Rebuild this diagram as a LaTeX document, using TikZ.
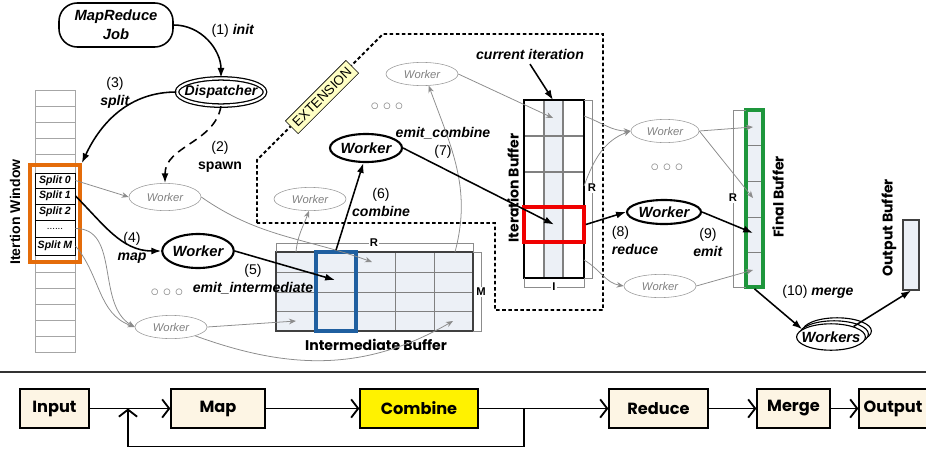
\documentclass[tikz,border=0pt]{standalone}
\usepackage{fontspec}
\setmainfont{Liberation Sans}
\newfontfamily\comic{Poppins}
\usetikzlibrary{
  positioning,
  shapes.geometric,
  arrows.meta,
}
\definecolor{winorange}{RGB}{228,108,10}
\definecolor{colblue}{RGB}{31,95,160}
\definecolor{curred}{RGB}{240,0,0}
\definecolor{fingreen}{RGB}{30,150,60}
\definecolor{buffill}{RGB}{236,240,246}
\definecolor{cream}{RGB}{253,245,228}
\definecolor{extyellow}{RGB}{255,255,196}
\newcommand{\bfit}[1]{\textbf{\textit{#1}}}

\tikzset{
  gworker/.style={ellipse, draw=gray!80, text=gray, inner sep=0pt,
    minimum width=1.8cm, minimum height=0.58cm,
    font=\itshape\fontsize{8}{9}\selectfont},
  bworker/.style={ellipse, draw, line width=1.5pt, inner sep=0pt,
    minimum width=1.8cm, minimum height=0.7cm,
    font=\bfseries\itshape\fontsize{10.5}{12}\selectfont},
  wstack/.style={ellipse, draw, fill=white, line width=0.8pt, inner ysep=0pt,
    inner xsep=-4pt, minimum width=1.72cm, minimum height=0.66cm,
    font=\bfseries\itshape\fontsize{10.5}{12}\selectfont},
  lbl/.style={align=center, font=\fontsize{10}{12.8}\selectfont},
  garrow/.style={draw=gray!90, line width=0.55pt, -{Stealth[length=5pt,width=4pt]}},
  barrow/.style={line width=1.1pt, -{Latex[length=7pt,width=5pt]}},
  stage/.style={draw, line width=0.9pt, fill=cream, minimum height=0.98cm,
    font=\comic\bfseries\fontsize{11.5}{13}\selectfont},
  flow/.style={line width=1.3pt, -{Straight Barb[length=5pt,width=13pt]}},
  dimline/.style={draw=gray!90, line width=0.55pt},
  dimlbl/.style={fill=white, inner sep=1pt, font=\bfseries\fontsize{8}{9}\selectfont},
  bufname/.style={font=\comic\bfseries\fontsize{10}{12}\selectfont},
  splitcell/.style={draw, fill=white, line width=0.7pt, inner sep=0pt,
    minimum width=1cm, font=\bfseries\itshape\fontsize{7.5}{8}\selectfont},
  etc/.style={text=gray, font=\large},
}

\begin{document}
\begin{tikzpicture}[x=0.025cm, y=-0.025cm]
  \useasboundingbox (0,0) rectangle (926,448);

  % job and dispatcher
  \node [draw, line width=1.1pt, rounded corners=13pt, align=center,
    minimum width=2.85cm, minimum height=1.1cm,
    font=\bfseries\itshape\fontsize{10.5}{13.5}\selectfont] (job) at (116,25) {MapReduce\\Job};
  \node [ellipse, draw, double, double distance=1.5pt, line width=0.9pt,
    inner xsep=-4pt, inner ysep=0pt, minimum width=2.2cm, minimum height=0.68cm,
    font=\bfseries\itshape\fontsize{10}{12}\selectfont] (disp) at (221,92) {Dispatcher};

  % iteration window
  \draw [gray!70] (35,90) rectangle (75,352);
  \foreach \y in {106,122,138,154,272,288,304,320,336}
    \draw [gray!70] (35,\y) -- (75,\y);
  \node [splitcell, minimum height=0.375cm] (s0) at (55,180.5) {Split 0};
  \node [splitcell, minimum height=0.4cm] (s1) at (55,196) {Split 1};
  \node [splitcell, minimum height=0.4cm] (s2) at (55,212) {Split 2};
  \node [splitcell, minimum height=0.425cm, font=\fontsize{7}{8}\selectfont] (sd) at (55,228.5) {......};
  \node [splitcell, minimum height=0.45cm] (sM) at (55,246) {Split M};
  \node [draw=winorange, line width=2.6pt, minimum width=1.25cm, minimum height=2.425cm] (win) at (55,213.5) {};
  \node [rotate=90, font=\bfseries\fontsize{10}{12}\selectfont] (winname) at (15,212) {Itertion Window};

  % extension region
  \draw [line width=1.4pt, dash pattern=on 2.5pt off 1.8pt]
    (257,223) -- (257,160) -- (383,34) -- (603,34) -- (603,310) -- (495,310) -- (495,223) -- cycle;
  \node [draw, fill=extyellow, rotate=45, inner xsep=3pt, inner ysep=3pt, font=\fontsize{9.5}{10}\selectfont] (ext) at (322,97) {EXTENSION};

  % intermediate buffer
  \fill [buffill] (276,252) rectangle (473,331);
  \foreach \x in {316,356,395,434}
    \draw [gray, line width=0.7pt] (\x,252) -- (\x,331);
  \foreach \y in {272,292,311}
    \draw [gray, line width=0.7pt] (276,\y) -- (473,\y);
  \draw [line width=1pt, black!75] (276,252) rectangle (473,331);
  \node [draw=colblue, line width=2.6pt, minimum width=1cm, minimum height=1.975cm] (blk) at (336,291.5) {};
  \draw [dimline] (276,252) -- (276,243) -- (473,243) -- (473,252);
  \node [dimlbl] (dimR1) at (374,243) {R};
  \draw [dimline] (473,252) -- (481,252) -- (481,331) -- (473,331);
  \node [dimlbl] (dimM) at (481,292) {M};
  \node [bufname] (imname) at (376,345) {Intermediate Buffer};

  % iteration buffer
  \fill [buffill] (544,100) rectangle (563,278);
  \foreach \x in {544,563}
    \draw [gray, line width=1pt] (\x,100) -- (\x,278);
  \foreach \y in {136,172,207,242}
    \draw [gray, line width=1pt] (524,\y) -- (584,\y);
  \draw [line width=1pt] (524,100) rectangle (584,278);
  \node [draw=curred, line width=2.6pt, minimum width=1.5cm, minimum height=0.875cm] (cur) at (554,224.5) {};
  \draw [dimline] (584,100) -- (592,100) -- (592,278) -- (584,278);
  \node [dimlbl] (dimR2) at (592,188) {R};
  \draw [dimline] (524,278) -- (524,287) -- (584,287) -- (584,278);
  \node [dimlbl] (dimI) at (554,287) {I};
  \node [bufname, rotate=90] (itname) at (513,188) {Iteration Buffer};
  \node [font=\bfseries\itshape\fontsize{10}{12}\selectfont] (curit) at (530,54) {current iteration};

  % final and output buffer
  \fill [buffill] (746,110) rectangle (763,287);
  \foreach \y in {145,181,217,252}
    \draw [gray] (746,\y) -- (763,\y);
  \node [draw=fingreen, line width=2.6pt, minimum width=0.425cm, minimum height=4.425cm] (fin) at (754.5,198.5) {};
  \draw [dimline] (746,110) -- (733,110) -- (733,287) -- (746,287);
  \node [dimlbl] (dimR3) at (733,198) {R};
  \node [bufname, rotate=90] (fbname) at (778,197) {Final Buffer};
  \node [draw, black!75, fill=buffill, line width=0.9pt, minimum width=0.4cm, minimum height=1.75cm] (obuf) at (911,255) {};
  \node [bufname, rotate=90] (obname) at (889,228) {Output Buffer};

  % workers
  \node [gworker, minimum height=0.68cm] (w1) at (165,197) {Worker};
  \node [gworker] (wb) at (171,327) {Worker};
  \node [gworker] (we) at (310,199) {Worker};
  \node [gworker] (wt) at (422,74) {Worker};
  \node [gworker, minimum width=1.7cm] (wr1) at (665,131) {Worker};
  \node [gworker] (wr2) at (660,286) {Worker};
  \node [bworker, minimum width=1.75cm, minimum height=0.85cm] (wm) at (198,251) {Worker};
  \node [bworker] (wc) at (366,148) {Worker};
  \node [bworker, minimum width=1.85cm, minimum height=0.6cm] (wr) at (664,212) {Worker};
  \node [wstack] (wks2) at (837,331) {};
  \node [wstack] (wks1) at (834,334) {};
  \node [wstack] (wks) at (831,337) {Workers};
  \node [etc] (dm) at (167,293) {$\circ\circ\circ$};
  \node [etc] (dc) at (387,107) {$\circ\circ\circ$};
  \node [etc] (dr) at (667,168) {$\circ\circ\circ$};

  % labels
  \node [lbl] (l1) at (233,31) {(1) \bfit{init}};
  \node [lbl] (l2) at (220,156.5) {(2)\\\textbf{spawn}};
  \node [lbl] (l3) at (115,92.5) {(3)\\\bfit{split}};
  \node [lbl] (l4) at (132,248) {(4)\\\bfit{map}};
  \node [lbl] (l5) at (253,279) {(5)\\\bfit{emit\_intermediate}};
  \node [lbl] (l6) at (381,202) {(6)\\\bfit{combine}};
  \node [lbl] (l7) at (443,143) {\bfit{emit\_combine}\\(7)};
  \node [lbl, align=left, anchor=west] (l8) at (607,240.5) {(8)\\\bfit{reduce}};
  \node [lbl] (l9) at (708,242) {(9)\\\bfit{emit}};
  \node [lbl] (l10) at (818,292) {(10) \bfit{merge}};

  % connector ends
  \coordinate (eint) at (335,280);
  \coordinate (ia13) at (372,262);
  \coordinate (ia41) at (296,321);
  \coordinate (ia45) at (453,321);
  \coordinate (iatop1) at (296,252);
  \coordinate (iatop5) at (455,252);
  \coordinate (ibtop) at (553,100);
  \coordinate (ib12) at (553,118);
  \coordinate (ibr1) at (584,116);
  \coordinate (ibr3) at (584,186);
  \coordinate (ibr5) at (584,260);
  \coordinate (fb1) at (753,127);
  \coordinate (fb3) at (753,198);
  \coordinate (femit) at (753,233);
  \coordinate (fb5) at (753,270);

  % gray data flow
  \draw [garrow] (s0.east) -- (w1.west);
  \draw [garrow] (w1.east) to [out=-35, in=160] (ia13);
  \draw [garrow] (sd.east) to [out=0, in=150] (wb.west);
  \draw [garrow] (sM.east) to [out=-50, in=160] (wb.west);
  \draw [garrow] (wb.east) -- (ia41);
  \draw [garrow] (wb.-20) to [out=-20, in=210] (ia45);
  \draw [garrow] (iatop1) to [out=85, in=-110] (we.265);
  \draw [garrow] (iatop5) to [out=75, in=-70] (wt.-60);
  \draw [garrow] (wt.east) -- (ib12);
  \draw [garrow] (ibr1) to [out=-20, in=180] (wr1.west);
  \draw [garrow] (ibr3) to [out=70, in=200] (wr1.west);
  \draw [garrow] (ibr5) to [out=-30, in=170] (wr2.west);
  \draw [garrow] (wr1.east) -- (fb1);
  \draw [garrow] (wr1.east) -- (fb3);
  \draw [garrow] (wr2.east) -- (fb5);

  % black steps
  \draw [barrow] (job.east) to [out=0, in=90] (disp.north);
  \draw [barrow] (disp.west) to [out=180, in=65] (win.north east);
  \draw [barrow, dash pattern=on 6pt off 4pt] (disp.south) to [out=-100, in=90] (w1.north);
  \draw [barrow] (s1.east) to [out=-45, in=180] (wm.west);
  \draw [barrow] (wm.east) -- (eint);
  \draw [barrow] (blk.north) -- (wc.260);
  \draw [barrow] (wc.east) -- (cur.center);
  \draw [barrow] (cur.east) -- (wr.west);
  \draw [barrow] (wr.east) -- (femit);
  \draw [barrow] (curit.south) -- (ibtop);
  \draw [barrow] (fin.south) -- (wks.165);
  \draw [barrow] (wks.25) -- (obuf.south);

  % pipeline
  \draw [line width=0.8pt, black!80] (0,372) -- (926,372);
  \node [stage, minimum width=1.725cm] (inp) at (54.5,408.5) {Input};
  \node [stage, minimum width=2.35cm] (map) at (218,408.5) {Map};
  \node [stage, minimum width=2.95cm, fill=yellow] (cmb) at (419,408.5) {Combine};
  \node [stage, minimum width=2.475cm] (rdc) at (658.5,408.5) {Reduce};
  \node [stage, minimum width=1.825cm] (mrg) at (793.5,408.5) {Merge};
  \node [stage, minimum width=1.7cm] (outp) at (893,408.5) {Output};
  \coordinate (fork) at (524,408.5);
  \coordinate (join) at (128,408.5);
  \draw [flow] (inp) -- (map);
  \draw [flow] (map) -- (cmb);
  \draw [flow] (cmb) -- (rdc);
  \draw [flow] (rdc) -- (mrg);
  \draw [flow] (mrg) -- (outp);
  \draw [flow] (fork) -- ++(0,38) -| (join);
\end{tikzpicture}
\end{document}
